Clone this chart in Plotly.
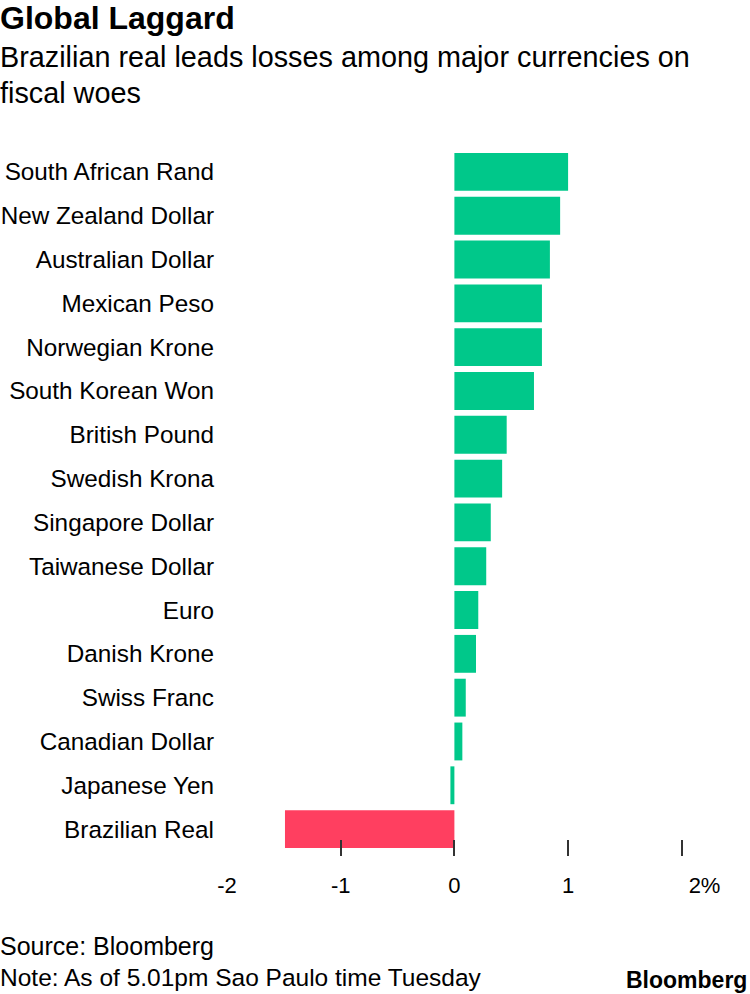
import plotly.graph_objects as go

# Data (top to bottom as shown)
currencies = [
    "South African Rand", "New Zealand Dollar", "Australian Dollar", "Mexican Peso",
    "Norwegian Krone", "South Korean Won", "British Pound", "Swedish Krona",
    "Singapore Dollar", "Taiwanese Dollar", "Euro", "Danish Krone", "Swiss Franc",
    "Canadian Dollar", "Japanese Yen", "Brazilian Real",
]
changes = [1.00, 0.93, 0.84, 0.77, 0.77, 0.70, 0.46, 0.42, 0.32, 0.28, 0.21, 0.19,
           0.10, 0.07, -0.035, -1.49]
highlight = "Brazilian Real"

x_label_vals = [-2, -1, 0, 1, 2.2]
x_label_text = ["-2", "-1", "0", "1", "2%"]
x_tick_vals = [-1, 0, 1, 2]

GREEN = "#00c88a"
RED = "#ff3f60"
FONT = "Liberation Sans, Arial, Helvetica, sans-serif"

colors = [RED if c == highlight else GREEN for c in currencies]

W, H = 750, 994
ML, MR, MT, MB = 227, 0, 150, 138
plot_w = W - ML - MR
plot_h = H - MT - MB

def px_x(x):
    return (x - ML) / plot_w

def px_y(y):
    return (H - MB - y) / plot_h

fig = go.Figure(go.Bar(
    x=changes,
    y=currencies,
    orientation="h",
    marker=dict(color=colors, line=dict(width=0)),
    hoverinfo="x+y",
))

fig.update_layout(
    width=W, height=H,
    margin=dict(l=ML, r=MR, t=MT, b=MB, autoexpand=False),
    paper_bgcolor="white", plot_bgcolor="white",
    showlegend=False,
    bargap=0.136,
    font=dict(family=FONT, color="#000000"),
    xaxis=dict(
        range=[-2, 2.6], automargin=False,
        tickmode="array", tickvals=x_label_vals, ticktext=x_label_text,
        ticks="", showgrid=False, zeroline=False, showline=False,
        tickfont=dict(size=22, color="#000000"),
        ticklabelstandoff=14,
        minor=dict(tickmode="array", tickvals=x_tick_vals, ticks="inside",
                   ticklen=16, tickwidth=2, tickcolor="#333333", showgrid=False),
    ),
    yaxis=dict(
        type="category", automargin=False,
        categoryorder="array", categoryarray=list(reversed(currencies)),
        range=[-0.614, 15.5],
        ticks="", showgrid=False, zeroline=False, showline=False,
        tickfont=dict(size=24.3, color="#000000"),
        ticklabelstandoff=12,
    ),
)

LX = -2
ann = []
ann.append(dict(text="<b>Global Laggard</b>", x=px_x(LX), y=px_y(18), xref="paper", yref="paper",
                xanchor="left", yanchor="middle", showarrow=False,
                font=dict(size=32, color="#000000", family=FONT)))
ann.append(dict(text="Brazilian real leads losses among major currencies on", x=px_x(LX), y=px_y(57),
                xref="paper", yref="paper", xanchor="left", yanchor="middle", showarrow=False,
                font=dict(size=28.8, color="#000000", family=FONT)))
ann.append(dict(text="fiscal woes", x=px_x(LX), y=px_y(93),
                xref="paper", yref="paper", xanchor="left", yanchor="middle", showarrow=False,
                font=dict(size=28.8, color="#000000", family=FONT)))
ann.append(dict(text="Source: Bloomberg", x=px_x(LX), y=px_y(946),
                xref="paper", yref="paper", xanchor="left", yanchor="middle", showarrow=False,
                font=dict(size=25, color="#000000", family=FONT)))
ann.append(dict(text="Note: As of 5.01pm Sao Paulo time Tuesday", x=px_x(LX), y=px_y(977),
                xref="paper", yref="paper", xanchor="left", yanchor="middle", showarrow=False,
                font=dict(size=24.5, color="#000000", family=FONT)))
ann.append(dict(text="<b>Bloomberg</b>", x=px_x(749), y=px_y(980),
                xref="paper", yref="paper", xanchor="right", yanchor="middle", showarrow=False,
                font=dict(size=23, color="#000000", family=FONT)))
fig.update_layout(annotations=ann)

fig.write_html("out.html", config={"displayModeBar": False},
               post_script="document.body.style.margin='0px';document.body.style.overflow='hidden';")
